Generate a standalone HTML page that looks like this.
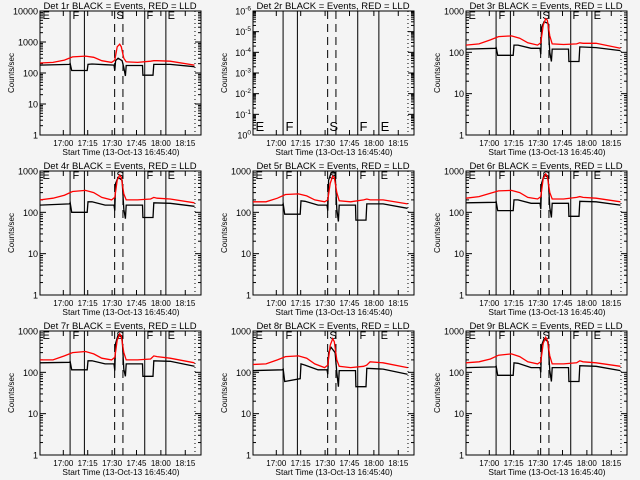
<!DOCTYPE html>
<html><head><meta charset="utf-8"><style>
body{margin:0;background:#f4f4f4}
svg{display:block}
text{font-family:"Liberation Sans",sans-serif;fill:#000}
</style></head><body>
<svg id="c" width="640" height="480" viewBox="0 0 640 480"></svg>
<script>
const detectorNames = ["1r","2r","3r","4r","5r","6r","7r","8r","9r"];
const yMaxExp = [4,null,3,3,3,3,3,3,3];
const xTickLabels = ["17:00","17:15","17:30","17:45","18:00","18:15"];
const xTickMinutes = [14.33,29.33,44.33,59.33,74.33,89.33];
const boundarySolid = [18.5,27.3,64.4,77.4];
const boundaryDashed = [45.9,51.0];
const boundaryDotted = [95.3];
const stateLabels = ["E","F","S","F","E"];
const stateLabelTimes = [1.5,20,47,65.5,78.5];
const redTimes = [0,8,15,20,28,33,38,44,46,47.5,49,50,51.5,53,60,68,70,72,80,95];
const blackTimes = [0,18,18.6,19.5,29,29.5,32,40,45.5,46,46.5,48,50.5,51.5,52.5,53,62,63,63.3,69.5,70,80,95];
const red1=[210,220,260,330,350,320,250,220,260,700,850,700,300,230,220,240,250,250,240,180];
const black1=[180,190,200,120,120,190,195,185,180,120,250,300,250,150,80,175,175,175,85,85,190,190,160];
const red3=[150,160,200,240,250,220,170,150,170,450,650,600,250,160,155,160,170,165,165,125];
const black3=[120,125,130,85,85,150,150,125,125,90,400,550,500,100,60,120,120,120,60,60,135,130,110];
const red4=[200,220,260,320,340,300,230,200,230,600,800,700,280,200,200,210,230,220,210,170];
const black4=[150,160,170,100,100,180,180,150,150,110,500,700,600,120,70,150,150,150,75,75,170,165,140];
const red5=[180,180,220,270,280,250,200,180,200,500,750,700,300,190,180,200,210,200,200,160];
const black5=[150,150,160,90,90,190,185,150,150,110,600,900,900,120,60,150,150,150,65,65,160,160,125];
const red6=[220,240,290,330,340,300,230,210,240,650,850,750,300,210,210,230,240,230,220,180];
const black6=[170,175,180,110,110,200,200,165,165,120,500,800,700,130,75,165,165,165,80,80,185,180,150];
const red7=[200,200,250,300,320,280,220,200,230,600,850,750,300,200,200,210,250,240,220,170];
const black7=[170,175,180,115,115,190,190,160,160,110,500,800,700,120,80,160,160,160,80,80,190,185,140];
const red8=[155,160,200,240,250,220,160,130,150,450,650,550,200,140,130,140,150,180,170,130];
const black8=[110,115,120,60,70,160,150,115,115,90,300,400,300,100,45,110,110,110,45,45,125,120,90];
const red9=[170,180,210,260,280,240,180,160,180,500,700,600,250,160,160,170,190,180,170,140];
const black9=[130,135,140,85,85,170,165,130,130,100,450,650,550,110,60,130,130,130,60,60,145,140,110];
const redSeries=[red1,null,red3,red4,red5,red6,red7,red8,red9];
const blackSeries=[black1,null,black3,black4,black5,black6,black7,black8,black9];

const svg=document.getElementById('c');
const NS='http://www.w3.org/2000/svg';
function mk(tag,attrs,parent){const e=document.createElementNS(NS,tag);for(const k in attrs)e.setAttribute(k,attrs[k]);(parent||svg).appendChild(e);return e;}
const T_MAX=99;
for(let p=0;p<9;p++){
  const ox=(p%3)*213, oy=Math.floor(p/3)*160;
  const x0=ox+40,x1=ox+201,y0=oy+11,y1=oy+135;
  const g=mk('g',{});
  
  
  const xs=t=>x0+(x1-x0)*t/T_MAX;
  const decades = yMaxExp[p]===null?6:yMaxExp[p];
  const ys=v=>y1-(y1-y0)*Math.log10(v)/decades;
  const fr=mk('rect',{x:x0,y:y0,width:x1-x0,height:y1-y0,fill:'none',stroke:'#000','stroke-width':1},g);
  
  
  const ti=mk('text',{x:ox+120,y:oy+9,'font-size':9.5,'text-anchor':'middle'},g);
  ti.textContent='Det '+detectorNames[p]+' BLACK = Events, RED = LLD';
  
  
  for(let d=0;d<=decades;d++){
    const y=y1-(y1-y0)*d/decades;
    mk('line',{x1:x0,x2:x0+6,y1:y,y2:y,stroke:'#000'},g);
    mk('line',{x1:x1,x2:x1-6,y1:y,y2:y,stroke:'#000'},g);
    const lab=mk('text',{x:x0-2,y:y+3.5,'font-size':9,'text-anchor':'end'},g);
    
    
    if(yMaxExp[p]===null){
      lab.textContent='10';
      const sp=mk('tspan',{dy:-4,'font-size':6.5},lab);
      sp.textContent=(d===0?'0':'-'+d);
    } else lab.textContent=String(Math.pow(10,d));
    if(d<decades){
      for(let m=2;m<10;m++){
        const ym=y-(y1-y0)/decades*Math.log10(m);
        mk('line',{x1:x0,x2:x0+3,y1:ym,y2:ym,stroke:'#000'},g);
        mk('line',{x1:x1,x2:x1-3,y1:ym,y2:ym,stroke:'#000'},g);
      }
    }
  }
  xTickMinutes.forEach((t,i)=>{
    const x=xs(t);
    mk('line',{x1:x,x2:x,y1:y1,y2:y1-5,stroke:'#000'},g);
    mk('line',{x1:x,x2:x,y1:y0,y2:y0+5,stroke:'#000'},g);
    const l=mk('text',{x:x,y:oy+146,'font-size':8,'text-anchor':'middle'},g);
    l.textContent=xTickLabels[i];
    
    
  });
  const xt=mk('text',{x:ox+121,y:oy+155,'font-size':8.3,'text-anchor':'middle'},g);
  xt.textContent='Start Time (13-Oct-13 16:45:40)';
  
  
  const yt=mk('text',{x:0,y:0,'font-size':8,'text-anchor':'middle',transform:'translate('+(ox+14)+','+(oy+73)+') rotate(-90)'},g);
  yt.textContent='Counts/sec';
  
  
  boundarySolid.forEach(t=>{const l=mk('line',{x1:xs(t),x2:xs(t),y1:y0,y2:y1,stroke:'#000'},g);
    });
  boundaryDashed.forEach(t=>{const l=mk('line',{x1:xs(t),x2:xs(t),y1:y0,y2:y1,stroke:'#000','stroke-dasharray':'8,5'},g);
    });
  boundaryDotted.forEach(t=>{const l=mk('line',{x1:xs(t),x2:xs(t),y1:y0,y2:y1,stroke:'#000','stroke-dasharray':'1,3'},g);
    });
  stateLabels.forEach((s,i)=>{
    const l=mk('text',{x:xs(stateLabelTimes[i]),y:(yMaxExp[p]===null?oy+131:oy+19),'font-size':(yMaxExp[p]===null?13:11)},g);
    l.textContent=s;
    
    
  });
  if(blackSeries[p]){
    const bp=blackTimes.map((t,i)=>xs(t).toFixed(1)+','+ys(blackSeries[p][i]).toFixed(1)).join(' ');
    const bl=mk('polyline',{points:bp,fill:'none',stroke:'#000','stroke-width':1.3},g);
    
    
    const rp=redTimes.map((t,i)=>xs(t).toFixed(1)+','+ys(redSeries[p][i]).toFixed(1)).join(' ');
    const rl=mk('polyline',{points:rp,fill:'none',stroke:'#ff0000','stroke-width':1.3},g);
    
    
  }
}
</script>
</body></html>
